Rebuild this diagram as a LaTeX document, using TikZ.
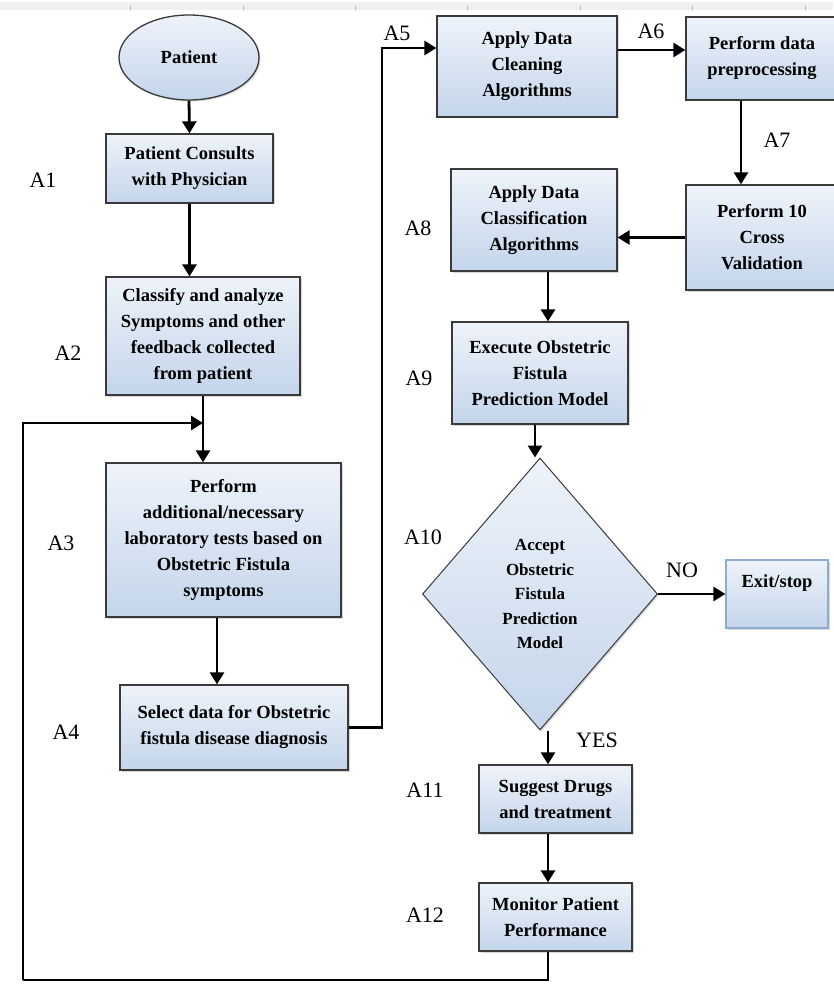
\documentclass[tikz,border=0pt]{standalone}
\usepackage{fontspec}
\setmainfont{Liberation Serif}
\usetikzlibrary{shapes.geometric,arrows.meta,shadows,calc}

\definecolor{boxtop}{RGB}{238,243,250}
\definecolor{boxbot}{RGB}{196,213,235}
\definecolor{edgec}{RGB}{58,58,58}
\definecolor{exitc}{RGB}{140,172,212}

\tikzset{
  proc/.style={rectangle, draw=edgec, line width=1.3pt, top color=boxtop, bottom color=boxbot,
    align=center, font=\bfseries\fontsize{18.5}{26}\selectfont, inner sep=2pt,
    drop shadow={shadow xshift=1.5pt, shadow yshift=-1.5pt, opacity=0.3}},
  lab/.style={font=\fontsize{22}{24}\selectfont, inner sep=0pt},
  arr/.style={line width=2.8pt, -{Triangle[length=12pt,width=14pt]}},
  conn/.style={line width=2.8pt},
}

\begin{document}
\begin{tikzpicture}[x=1pt,y=-1pt]
\useasboundingbox (0,0) rectangle (833,984);
\fill[white] (0,0) rectangle (833,984);
% top strip
\fill[gray!12] (0,2) rectangle (833,10);
\foreach \t in {130,243,355,467,580,692,805} \draw[gray!60, line width=0.8pt] (\t,6) -- (\t,10);

% nodes
\node[proc, ellipse, line width=1.3pt, minimum width=140pt, minimum height=85pt] (P) at (189,57.5) {Patient};
\node[proc, minimum width=167pt, minimum height=69pt] (A1) at (189.5,168.5) {Patient Consults\\with Physician};
\node[proc, minimum width=194pt, minimum height=118pt] (A2) at (203,336) {Classify and analyze\\Symptoms and other\\feedback collected\\from patient};
\node[proc, minimum width=235pt, minimum height=154pt] (A3) at (223.5,540) {Perform\\additional/necessary\\laboratory tests based on\\Obstetric Fistula\\symptoms};
\node[proc, minimum width=228pt, minimum height=85pt] (A4) at (234,727.5) {Select data for Obstetric\\fistula disease diagnosis};
\node[proc, minimum width=180pt, minimum height=101pt] (A5) at (527,66.5) {Apply Data\\Cleaning\\Algorithms};
\node[proc, minimum width=152pt, minimum height=83pt] (A6) at (762,58.5) {Perform data\\preprocessing};
\node[proc, minimum width=152pt, minimum height=105pt] (A7) at (762,237.5) {Perform 10\\Cross\\Validation};
\node[proc, minimum width=166pt, minimum height=102pt] (A8) at (534,220) {Apply Data\\Classification\\Algorithms};
\node[proc, minimum width=176pt, minimum height=102pt] (A9) at (540,373) {Execute Obstetric\\Fistula\\Prediction Model};
\node[proc, diamond, aspect=0.86, line width=1pt, minimum width=235pt, minimum height=272pt, inner sep=0pt,
      font=\bfseries\fontsize{17}{24.5}\selectfont] (D) at (540,594) {Accept\\Obstetric\\Fistula\\Prediction\\Model};
\node[proc, draw=exitc, line width=1.2pt, minimum width=102pt, minimum height=68pt, text height=13pt, text depth=27pt] (EX) at (777,594) {Exit/stop};
\node[proc, minimum width=153pt, minimum height=68pt] (A11) at (555.5,799) {Suggest Drugs\\and treatment};
\node[proc, minimum width=153pt, minimum height=68pt] (A12) at (555.5,917) {Monitor Patient\\Performance};

% labels
\node[lab] (L1) at (43,180) {A1};
\node[lab] (L2) at (68,353) {A2};
\node[lab] (L3) at (61,543) {A3};
\node[lab] (L4) at (66,732) {A4};
\node[lab] (L5) at (397,33) {A5};
\node[lab] (L6) at (651,31) {A6};
\node[lab] (L7) at (777,140) {A7};
\node[lab] (L8) at (418,228) {A8};
\node[lab] (L9) at (419,378) {A9};
\node[lab] (L10) at (423,537) {A10};
\node[lab] (LNO) at (682,570) {NO};
\node[lab] (LYES) at (597,740) {YES};
\node[lab] (L11) at (425,790) {A11};
\node[lab] (L12) at (425,915) {A12};

% coordinates
\coordinate (rt) at (382,48);
\coordinate (join) at (203,423);
\coordinate (bl) at (23,980);

% connectors
\draw[arr] (P.south) -- (A1.north);
\draw[arr] (A1.south) -- (A1.south |- A2.north);
\draw[arr] (A2.south) -- (A2.south |- A3.north);
\draw[arr] ([xshift=-6.5pt]A3.south) -- ([xshift=-6.5pt]A3.south |- A4.north);
\draw[arr] (A4.east) -| (rt) -- (rt -| A5.west);
\draw[arr] ([yshift=16.5pt]A5.east) -- ([yshift=16.5pt]A5.east -| A6.west);
\draw[arr] ([xshift=-21pt]A6.south) -- ([xshift=-21pt]A6.south |- A7.north);
\draw[arr] (A7.west) -- (A7.west -| A8.east);
\draw[arr] ([xshift=14pt]A8.south) -- ([xshift=14pt]A8.south |- A9.north);
\draw[arr] ([xshift=-5pt]A9.south) -- ([xshift=-5pt]A9.south |- D.north);
\draw[arr] (D.east) -- (EX.west);
\draw[arr] ([xshift=8pt]D.south) -- ([xshift=8pt]D.south |- A11.north);
\draw[arr] ([xshift=-7.5pt]A11.south) -- ([xshift=-7.5pt]A11.south |- A12.north);
\draw[conn] ([xshift=-7.5pt]A12.south) |- (bl);
\draw[arr] (bl) |- (join);
\end{tikzpicture}
\end{document}
